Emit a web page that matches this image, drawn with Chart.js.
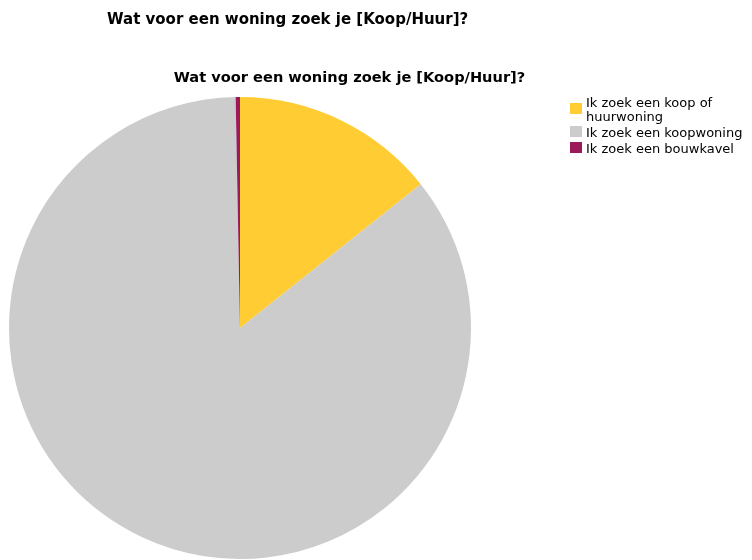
<!DOCTYPE html>
<html lang="nl">
<head>
  <meta charset="UTF-8" />
  <title>Wat voor een woning zoek je [Koop/Huur]?</title>
  <script src="https://cdn.jsdelivr.net/npm/chart.js"></script>
  <style>
    body { margin: 0; background: #fff; font-family: "DejaVu Sans", sans-serif; color: #000; }
    #wrap { position: relative; width: 752px; height: 560px; overflow: hidden; }
    #grafiek { position: absolute; left: 0; top: 0; }
    .kop { position: absolute; font-weight: bold; white-space: nowrap; line-height: 16px; }
    #kop1 { left: 107px; top: 11px; font-size: 15px; }
    #kop2 { left: 0; width: 699px; text-align: center; top: 69px; font-size: 14.6px; }
    #legenda { position: absolute; left: 570px; top: 96px; width: 182px; font-size: 13px; line-height: 13.5px; }
    .item { display: flex; align-items: center; margin-bottom: 2.5px; }
    .blok { width: 12px; height: 11px; margin-right: 4px; flex: none; position: relative; top: -1px; }
  </style>
</head>
<body>
  <div id="wrap">
    <canvas id="grafiek" width="752" height="560"></canvas>
    <div class="kop" id="kop1">Wat voor een woning zoek je [Koop/Huur]?</div>
    <div class="kop" id="kop2">Wat voor een woning zoek je [Koop/Huur]?</div>
    <div id="legenda"></div>
  </div>

  <script>
    // antwoorden en aandeel in procenten
    const antwoorden = ["Ik zoek een koop of huurwoning", "Ik zoek een koopwoning", "Ik zoek een bouwkavel"];
    const percentages = [14.3, 85.4, 0.3];
    const kleuren = ["#ffcc33", "#cccccc", "#9b1b5a"];

    // legenda rechts
    const legenda = document.getElementById("legenda");
    antwoorden.forEach((tekst, i) => {
      const rij = document.createElement("div");
      rij.className = "item";
      rij.innerHTML = `<span class="blok" style="background:${kleuren[i]}"></span><span style="max-width:162px">${tekst}</span>`;
      legenda.appendChild(rij);
    });

    const ctx = document.getElementById("grafiek").getContext("2d");
    new Chart(ctx, {
      type: "pie",
      data: {
        labels: antwoorden,
        datasets: [{
          data: percentages,
          backgroundColor: kleuren,
          borderWidth: 0
        }]
      },
      options: {
        responsive: false,
        animation: false,
        layout: { padding: { left: 9, top: 97, right: 281, bottom: 1 } },
        plugins: {
          legend: { display: false },
          title: { display: false },
          tooltip: { enabled: false }
        }
      }
    });
  </script>
</body>
</html>
